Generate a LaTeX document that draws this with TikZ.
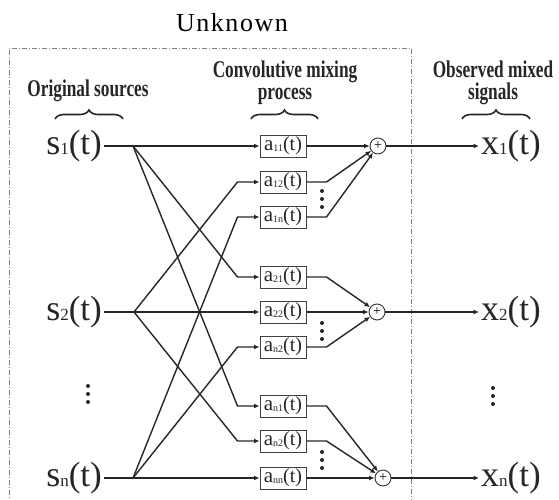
\documentclass[tikz,border=0pt]{standalone}
\usepackage{fontspec}
\setmainfont{Liberation Serif}
\usetikzlibrary{arrows.meta, decorations.pathreplacing}

% signal and filter labels
\newcommand\sigl[2]{{\fontsize{36}{36}\selectfont #1}{\fontsize{17}{17}\selectfont #2}{\fontsize{35}{35}\selectfont (t)}}
\newcommand\coef[1]{{\fontsize{21}{21}\selectfont a}\raisebox{-1pt}{\fontsize{10}{10}\selectfont #1}{\fontsize{20}{20}\selectfont (t)}}
\newcommand\hdr[1]{\scalebox{0.72}[1]{\bfseries #1}}

\begin{document}
\begin{tikzpicture}[
    x=1pt, y=-1pt,
    box/.style={draw=black!75, line width=1pt, minimum width=46pt, minimum height=22pt,
                inner sep=0pt, text=black!85},
    sumnode/.style={draw=black!80, circle, line width=0.9pt, minimum size=16pt, inner sep=0pt,
                    font=\fontsize{14}{14}\selectfont},
    sig/.style={inner sep=2pt, text=black!85},
    hd/.style={align=center, anchor=base, font=\fontsize{24}{22}\selectfont, text=black!85},
    wire/.style={line width=1.4pt, draw=black!85},
    arr/.style={wire, -{Latex[length=5.5pt,width=5pt]}},
    brc/.style={decorate, decoration={brace, amplitude=9pt}, line width=1.6pt, draw=black!85}]

    \useasboundingbox (0,0) rectangle (559,500);

    % unknown part of the system
    \draw[gray, line width=0.9pt, dash pattern=on 5pt off 2pt on 1pt off 2pt]
        (9,505) -- (9,48) -- (411,48) -- (411,505);
    \node[anchor=base, font=\fontsize{26}{26}\selectfont\addfontfeature{LetterSpace=6}] (unk) at (232,32) {Unknown};

    % headers
    \node[hd] (hdsrc) at (88,97)   {\hdr{Original sources}};
    \node[hd] (hdmix) at (285,100) {\hdr{Convolutive mixing}\\\hdr{process}};
    \node[hd] (hdobs) at (493,100) {\hdr{Observed mixed}\\\hdr{signals}};
    \draw[brc] (55,119)  -- (123,119);
    \draw[brc] (251,119) -- (318,119);
    \draw[brc] (462,119) -- (530,119);

    % sources and branch points
    \node[sig, anchor=east] (s1) at (104,146) {\sigl{s}{1}};
    \node[sig, anchor=east] (s2) at (104,312) {\sigl{s}{2}};
    \node[sig, anchor=east] (s3) at (104,478) {\sigl{s}{n}};
    \coordinate (b1) at (133,146);
    \coordinate (b2) at (134,312);
    \coordinate (b3) at (133,478);

    % filters
    \foreach \g/\ya/\yb/\yc/\la/\lb/\lc in {1/146/182/217/11/12/1n,
                                           2/277/312/347/21/22/n2,
                                           3/406/441/478/n1/n2/nn} {
        \node[box] (a\g1) at (283,\ya) {\coef{\la}};
        \node[box] (a\g2) at (283,\yb) {\coef{\lb}};
        \node[box] (a\g3) at (283,\yc) {\coef{\lc}};
    }

    % adders and outputs
    \node[sumnode] (sum1) at (378,146) {+};
    \node[sumnode] (sum2) at (377,312) {+};
    \node[sumnode] (sum3) at (383,478) {+};
    \node[sig, anchor=west] (x1) at (479,146) {\sigl{x}{1}};
    \node[sig, anchor=west] (x2) at (479,312) {\sigl{x}{2}};
    \node[sig, anchor=west] (x3) at (479,478) {\sigl{x}{n}};

    % sources to filters
    \foreach \k in {1,2,3}
        \draw[arr] (s\k.east) -- (a\k\k.west);
    \foreach \k/\g in {1/2,1/3,2/1,2/3,3/1,3/2}
        \draw[arr] (b\k) -- ([xshift=-22pt]a\g\k.west) -- (a\g\k.west);

    % filters to adders
    \foreach \g in {1,2,3}
        \draw[arr] (a\g\g.east) -- (sum\g);
    \foreach \g/\k in {1/2,1/3,2/1,2/3,3/1,3/2}
        \draw[arr] (a\g\k.east) -- ++(20,0) -- (sum\g);

    % adders to observed signals
    \foreach \g in {1,2,3}
        \draw[arr] (sum\g) -- (x\g.west);

    % vertical dots
    \foreach \x/\y in {88/394, 493/396, 322/199, 322/331, 322/460}
        \foreach \d in {-8,0,8}
            \fill[black!85] (\x,\y+\d) circle (2pt);
\end{tikzpicture}
\end{document}
